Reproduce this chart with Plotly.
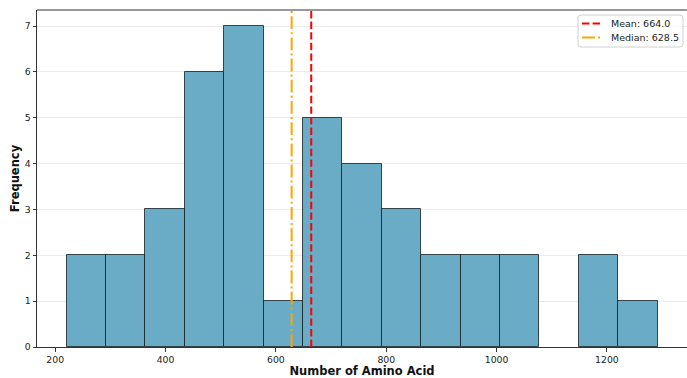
import plotly.graph_objects as go

# Data
bin_start = 220.5
bin_end = 1291.7
counts = [2, 2, 3, 6, 7, 1, 5, 4, 3, 2, 2, 2, 0, 2, 1]
mean_val = 664.0
median_val = 628.5
x_ticks = [200, 400, 600, 800, 1000, 1200]
y_ticks = [0, 1, 2, 3, 4, 5, 6, 7]

n = len(counts)
width = (bin_end - bin_start) / n
lefts = [bin_start + i * width for i in range(n)]
centers = [l + width / 2 for l in lefts]

y_max = max(counts) * 1.05
span = bin_end - bin_start
x_lo = bin_start - 0.05 * span

W, H = 687, 378
ML, MR, MT, MB = 37, 0, 10, 31
PW, PH = W - ML - MR, H - MT - MB
px_per_unit = 0.5517
x_hi = x_lo + PW / px_per_unit

def px(x):
    return (x - ML) / PW

def py(y):
    return (H - MB - y) / PH

edge_widths = [1 if c > 0 else 0 for c in counts]

fig = go.Figure()
fig.add_trace(go.Bar(
    x=centers, y=counts, width=[width] * n,
    marker=dict(color="rgb(106,171,197)", line=dict(color="rgba(20,30,35,0.8)", width=edge_widths)),
    showlegend=False, hoverinfo="skip",
))
fig.add_trace(go.Scatter(
    x=[mean_val, mean_val], y=[0, y_max], mode="lines",
    line=dict(color="red", width=2, dash="7.4px,3.2px"),
    showlegend=False, hoverinfo="skip",
))
fig.add_trace(go.Scatter(
    x=[median_val, median_val], y=[0, y_max], mode="lines",
    line=dict(color="orange", width=2, dash="12.8px,3.2px,2px,3.2px"),
    showlegend=False, hoverinfo="skip",
))

font_fam = "DejaVu Sans"
fig.update_layout(
    width=W, height=H,
    margin=dict(l=ML, r=MR, t=MT, b=MB),
    paper_bgcolor="white", plot_bgcolor="white",
    bargap=0,
    showlegend=False,
    font=dict(family=font_fam, size=9.3, color="#222"),
    xaxis=dict(
        range=[x_lo, x_hi],
        tickvals=x_ticks, ticks="outside", ticklen=3.5, tickcolor="#333",
        showgrid=False, zeroline=False,
        showline=True, linecolor="#333", linewidth=1,
        title=dict(text="<b>Number of Amino Acid</b>", font=dict(size=11.5, family=font_fam, color="#111"), standoff=5),
    ),
    yaxis=dict(
        range=[0, y_max],
        tickvals=y_ticks, ticks="outside", ticklen=3.5, tickcolor="#333",
        showgrid=True, gridcolor="rgba(200,200,200,0.35)", gridwidth=1,
        zeroline=False,
        showline=True, linecolor="#333", linewidth=1,
        title=dict(text="<b>Frequency</b>", font=dict(size=11.5, family=font_fam, color="#111"), standoff=2),
    ),
)
# top spine
fig.add_shape(type="line", xref="paper", yref="paper", x0=0, x1=1, y0=1, y1=1,
              line=dict(color="#333", width=1))

# legend (drawn manually to match compact matplotlib legend)
bx0, bx1, by0, by1, r = 578, 683, 15, 47, 3
path = (f"M {px(bx0 + r)},{py(by0)} L {px(bx1 - r)},{py(by0)} Q {px(bx1)},{py(by0)} {px(bx1)},{py(by0 + r)} "
        f"L {px(bx1)},{py(by1 - r)} Q {px(bx1)},{py(by1)} {px(bx1 - r)},{py(by1)} "
        f"L {px(bx0 + r)},{py(by1)} Q {px(bx0)},{py(by1)} {px(bx0)},{py(by1 - r)} "
        f"L {px(bx0)},{py(by0 + r)} Q {px(bx0)},{py(by0)} {px(bx0 + r)},{py(by0)} Z")
fig.add_shape(type="path", xref="paper", yref="paper", path=path,
              fillcolor="rgba(255,255,255,0.8)", line=dict(color="#d0d0d0", width=1))
legend_items = [
    (f"Mean: {mean_val:.1f}", "red", "7.4px,3.2px", 23.5),
    (f"Median: {median_val:.1f}", "orange", "12.8px,3.2px,2px,3.2px", 37.5),
]
for label, col, dash, yy in legend_items:
    fig.add_shape(type="line", xref="paper", yref="paper",
                  x0=px(582), x1=px(602), y0=py(yy), y1=py(yy),
                  line=dict(color=col, width=2, dash=dash))
    fig.add_annotation(xref="paper", yref="paper", x=px(609), y=py(yy),
                       text=label, showarrow=False, xanchor="left", yanchor="middle",
                       font=dict(size=9.5, family=font_fam, color="#222"))

fig.write_html("out.html")
